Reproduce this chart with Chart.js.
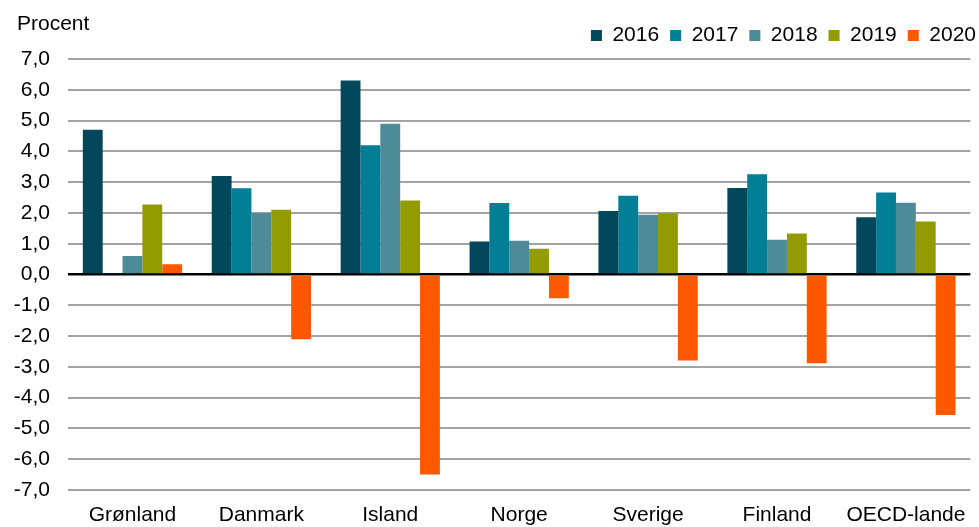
<!DOCTYPE html>
<html>
<head>
<meta charset="utf-8">
<script src="https://cdn.jsdelivr.net/npm/chart.js@4"></script>
<style>
  html, body { margin: 0; padding: 0; background: #fff; }
  #wrap { width: 979px; height: 527px; position: relative; }
</style>
</head>
<body>
<div id="wrap"><canvas id="c"></canvas></div>
<script>
const categories = ["Grønland", "Danmark", "Island", "Norge", "Sverige", "Finland", "OECD-lande"];
const seriesNames = ["2016", "2017", "2018", "2019", "2020"];
const values2016 = [4.7, 3.2, 6.3, 1.07, 2.06, 2.81, 1.86];
const values2017 = [0.03, 2.8, 4.2, 2.32, 2.56, 3.26, 2.66];
const values2018 = [0.6, 2.0, 4.9, 1.1, 1.94, 1.13, 2.33];
const values2019 = [2.27, 2.1, 2.4, 0.84, 1.99, 1.33, 1.72];
const values2020 = [0.33, -2.1, -6.5, -0.77, -2.79, -2.88, -4.56];
const yAxisLabel = "Procent";
const yMin = -7, yMax = 7, yStep = 1;

const colors = ["#02475c", "#037e97", "#4d8b98", "#939b02", "#fb5800"];
const allValues = [values2016, values2017, values2018, values2019, values2020];

const procentPlugin = {
  id: 'procent',
  afterDraw(chart) {
    const ctx = chart.ctx;
    ctx.save();
    ctx.font = '21px "Liberation Sans", Arial, sans-serif';
    ctx.fillStyle = '#000';
    ctx.textBaseline = 'alphabetic';
    ctx.textAlign = 'left';
    ctx.fillText(yAxisLabel, 17, 30);
    ctx.restore();
  }
};

const legendTweak = {
  id: 'legendTweak',
  beforeLayout(chart) {
    const lg = chart.legend;
    if (lg && !lg._wrapped) {
      const f = lg.fit.bind(lg);
      lg.fit = function () { f(); this.height += 3; };
      lg._wrapped = true;
    }
  },
  afterLayout(chart) {
    const lg = chart.legend;
    if (lg) { lg.left += 16; lg.right += 16; }
  }
};

new Chart(document.getElementById('c'), {
  type: 'bar',
  data: {
    labels: categories,
    datasets: seriesNames.map((name, i) => ({
      label: name,
      data: allValues[i],
      backgroundColor: colors[i],
      borderWidth: 0,
      barPercentage: 1.0,
      categoryPercentage: 0.77
    }))
  },
  options: {
    responsive: true,
    maintainAspectRatio: false,
    animation: false,
    layout: { padding: { left: 14, right: 8, top: 14, bottom: 0 } },
    plugins: {
      tooltip: { enabled: false },
      legend: {
        position: 'top',
        align: 'end',
        labels: {
          boxWidth: 11,
          boxHeight: 11,
          padding: 11,
          color: '#000',
          font: { family: '"Liberation Sans", Arial, sans-serif', size: 21 }
        }
      }
    },
    scales: {
      x: {
        grid: { display: false, drawTicks: false },
        border: { display: false },
        afterFit: (s) => { s.height = 37; },
        ticks: {
          color: '#000',
          padding: 13,
          maxRotation: 0,
          autoSkip: false,
          font: { family: '"Liberation Sans", Arial, sans-serif', size: 21 }
        }
      },
      y: {
        min: yMin,
        max: yMax,
        border: { display: false },
        afterFit: (s) => { s.width = 54; },
        grid: {
          drawTicks: false,
          color: (c) => c.tick && c.tick.value === 0 ? '#000' : '#a3a3a3',
          lineWidth: (c) => c.tick && c.tick.value === 0 ? 2.5 : 2
        },
        ticks: {
          stepSize: yStep,
          color: '#000',
          padding: 18,
          font: { family: '"Liberation Sans", Arial, sans-serif', size: 21 },
          callback: (v) => v.toFixed(1).replace('.', ',')
        }
      }
    }
  },
  plugins: [procentPlugin, legendTweak]
});
</script>
</body>
</html>
